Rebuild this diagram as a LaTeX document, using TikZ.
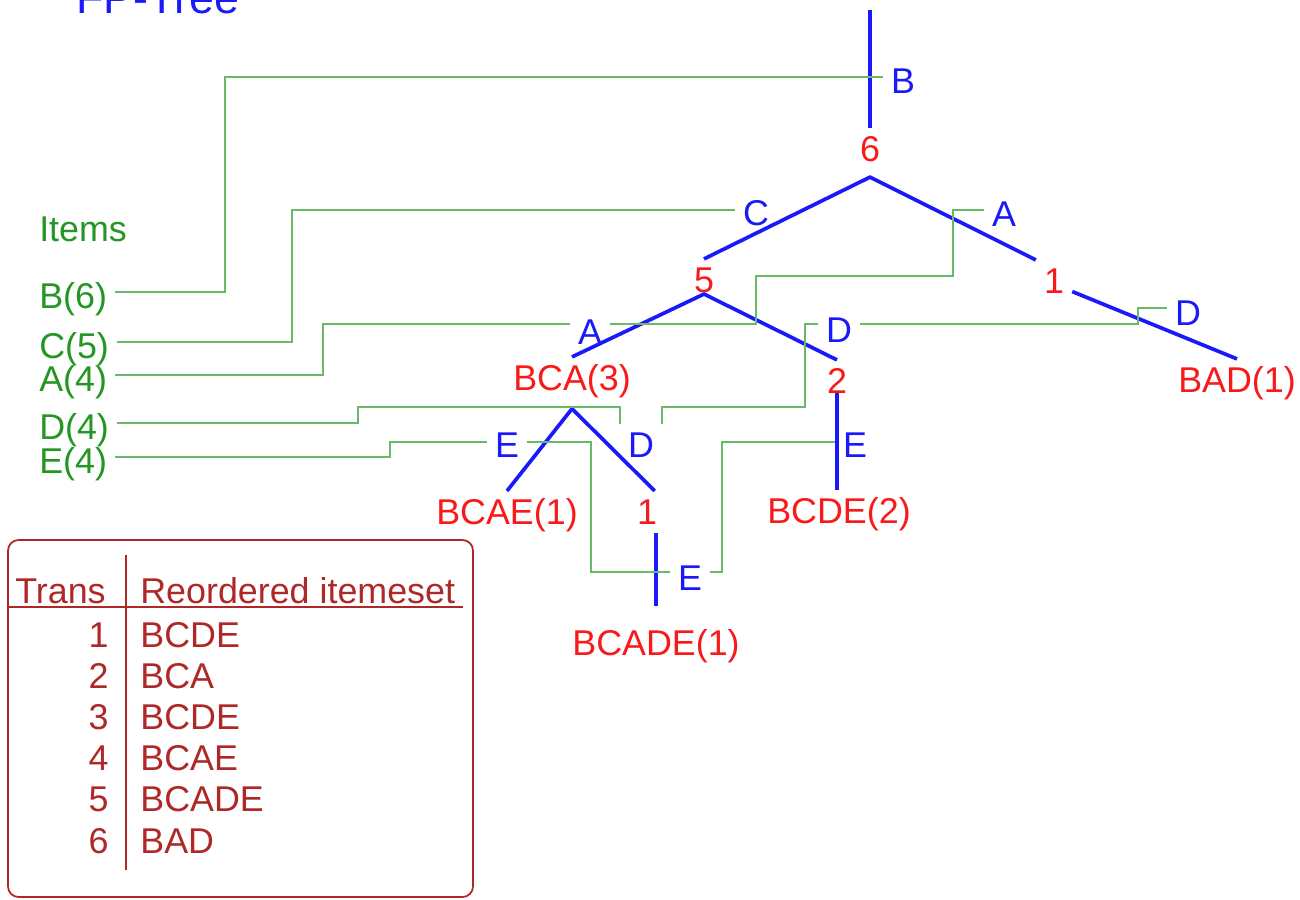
\documentclass[tikz,border=0pt]{standalone}
\usepackage{fontspec}
\setmainfont{Liberation Sans}
\usepackage{tikz}
\definecolor{itemgreen}{RGB}{35,150,35}
\definecolor{linkgreen}{RGB}{105,185,105}
\definecolor{treeblue}{RGB}{25,25,250}
\definecolor{countred}{RGB}{250,25,25}
\definecolor{tablered}{RGB}{175,40,40}

\begin{document}
\begin{tikzpicture}[x=0.02cm,y=-0.02cm,
  every node/.style={font=\fontsize{20.4}{24}\selectfont,inner sep=4.5pt,text height=14.6pt,text depth=0pt},
  item/.style={text=itemgreen,anchor=west,text height=19.3pt},
  tally/.style={text=countred},
  lbl/.style={text=treeblue},
  tcell/.style={text=tablered,inner sep=0pt},
  branch/.style={draw=treeblue,line width=2.1pt,line join=round},
  itemlink/.style={draw=linkgreen,line width=0.9pt}]
  \useasboundingbox (0,0) rectangle (1300,899);
  \node[lbl,anchor=base west,inner sep=0pt,font=\fontsize{25.5}{30}\selectfont] (title) at (76,13) {FP-Tree};
  \node[item] (items) at (31,225) {Items};
  \foreach \name/\txt/\y in {B/B(6)/292,C/C(5)/342,A/A(4)/375,D/D(4)/423,E/E(4)/457}
    \node[item] (item\name) at (31,\y) {\txt};
  \node[tally] (n6) at (870,149) {6};
  \node[tally] (n5) at (704,280) {5};
  \node[tally] (n1a) at (1054,281) {1};
  \node[tally] (bca) at (572,378) {BCA(3)};
  \node[tally] (n2) at (837,381) {2};
  \node[tally] (bad) at (1237,380) {BAD(1)};
  \node[tally] (bcae) at (507,512) {BCAE(1)};
  \node[tally] (n1b) at (647,512) {1};
  \node[tally] (bcde) at (839,511) {BCDE(2)};
  \node[tally] (bcade) at (656,643) {BCADE(1)};
  \node[lbl] (lB) at (903,81) {B};
  \node[lbl] (lC) at (756,213) {C};
  \node[lbl] (lA1) at (1004,214) {A};
  \node[lbl] (lA2) at (590,332) {A};
  \node[lbl] (lD1) at (1188,313) {D};
  \node[lbl] (lD2) at (839,330) {D};
  \node[lbl] (lD3) at (641,445) {D};
  \node[lbl] (lE1) at (507,445) {E};
  \node[lbl] (lE2) at (855,445) {E};
  \node[lbl] (lE3) at (690,578) {E};
  \coordinate (root) at (870,10);
  \draw[branch] (root) -- (n6.north);
  \draw[branch] (n5.north) -- ([yshift=-4pt]n6.south) -- (n1a.north west);
  \draw[branch] (n1a.-30) -- (bad.north);
  \draw[branch] (bca.north) -- ([yshift=4pt]n5.south) -- (n2.north);
  \draw[branch] ([yshift=5pt]n2.south) -- (n2.south |- bcde.north);
  \draw[branch] (bcae.north) -- ([yshift=-5.5pt]bca.south) -- (n1b.70);
  \draw[branch] (bcade.north |- n1b.south) -- ([yshift=9pt]bcade.north);
  \draw[itemlink] (itemB.east) -| (225,77) -- (lB.west |- 225,77);
  \draw[itemlink] (itemC.east) -| (292,210) -- (lC.west |- 292,210);
  \draw[itemlink] (itemA.east) -| (323,324) -- (lA2.west |- 323,324);
  \draw[itemlink] (lA2.east |- 323,324) -| (756,276) -| (953,210) -- (lA1.west |- 953,210);
  \draw[itemlink] (itemD.east) -| (358,407) -| (lD3.north west);
  \draw[itemlink] (lD3.north east) |- (805,407) |- (lD2.west |- 805,324);
  \draw[itemlink] (lD2.east |- 805,324) -| (1138,308) -- (lD1.west |- 1138,308);
  \draw[itemlink] (itemE.east) -| (390,442) -- (lE1.west |- 390,442);
  \draw[itemlink] (lE1.east |- 390,442) -| (591,572) -- (lE3.west |- 591,572);
  \draw[itemlink] (lE3.east |- 591,572) -| (722,442) -- (lE2.west |- 722,442);
  \draw[tablered,line width=1pt,rounded corners=6pt] (8,540) rectangle (473,897);
  \draw[tablered,line width=1pt] (126,555) -- (126,870);
  \draw[tablered,line width=1pt] (9,607) -- (463,607);
  \node[tcell,anchor=base west] (htrans) at (15,603) {Trans};
  \node[tcell,anchor=base west] (hset) at (140,603) {Reordered itemeset};
  \foreach \t/\s [count=\i from 0] in {1/BCDE,2/BCA,3/BCDE,4/BCAE,5/BCADE,6/BAD} {
    \node[tcell,anchor=base east] (num\t) at (109,{647+41.2*\i}) {\t};
    \node[tcell,anchor=base west] (set\t) at (140,{647+41.2*\i}) {\s};
  }
\end{tikzpicture}
\end{document}
